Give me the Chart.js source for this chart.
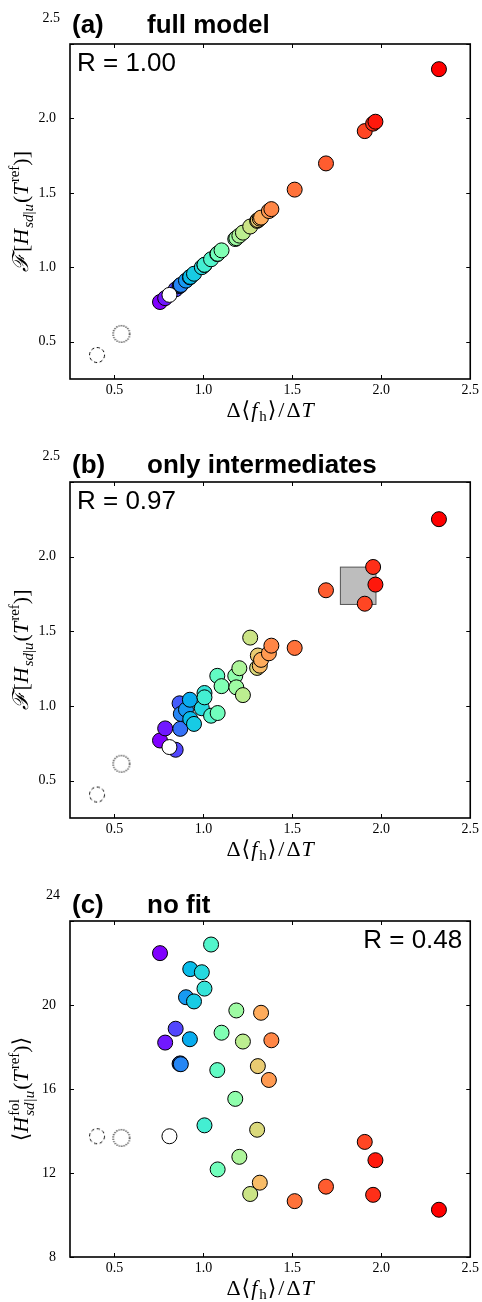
<!DOCTYPE html>
<html>
<head>
<meta charset="utf-8">
<script src="https://cdn.jsdelivr.net/npm/chart.js@4/dist/chart.umd.min.js"></script>
<style>
html,body{margin:0;padding:0;background:#fff;}
#wrap{position:relative;width:482px;height:1302px;overflow:hidden;}
#wrap canvas{position:absolute;left:0;}
</style>
</head>
<body>
<div id="wrap">
<canvas id="ca" width="482" height="432" style="top:0px;width:482px;height:432px"></canvas>
<canvas id="cb" width="482" height="438" style="top:432px;width:482px;height:438px"></canvas>
<canvas id="cc" width="482" height="432" style="top:870px;width:482px;height:432px"></canvas>
</div>
<script>
// ---------------- data ----------------
const xValues = [0.756, 0.785, 0.844, 0.866, 0.870, 0.873, 0.902, 0.924, 0.926, 0.947, 0.991, 1.006, 1.006, 1.043, 1.078, 1.080, 1.102, 1.179, 1.185, 1.202, 1.222, 1.263, 1.302, 1.306, 1.317, 1.324, 1.368, 1.382, 1.513, 1.689, 1.907, 1.954, 1.967, 2.324];
const fullModel = [0.767, 0.793, 0.852, 0.874, 0.878, 0.882, 0.911, 0.933, 0.936, 0.957, 1.001, 1.016, 1.017, 1.054, 1.089, 1.091, 1.114, 1.190, 1.196, 1.213, 1.233, 1.274, 1.312, 1.317, 1.327, 1.334, 1.378, 1.391, 1.522, 1.698, 1.915, 1.965, 1.978, 2.331];
const onlyIntermediates = [0.769, 0.850, 0.707, 1.018, 0.847, 0.947, 0.976, 1.042, 0.913, 0.880, 0.985, 1.087, 1.058, 0.935, 1.202, 0.953, 1.133, 1.202, 1.125, 1.253, 1.073, 1.458, 1.255, 1.338, 1.270, 1.309, 1.353, 1.404, 1.389, 1.775, 1.685, 1.931, 1.813, 2.251];
const noFit = [22.47, 18.21, 18.87, 17.20, 17.22, 17.18, 20.37, 18.37, 21.71, 20.17, 21.56, 20.78, 14.27, 22.88, 16.90, 12.17, 18.68, 15.53, 19.74, 12.77, 18.26, 11.00, 14.06, 17.09, 11.54, 19.63, 16.43, 18.32, 10.66, 11.35, 13.48, 10.96, 12.61, 10.25];

// white (reference) point
const refX = [0.809];
const refFull = [0.815];
const refInter = [0.725];
const refNoFit = [13.75];

// dashed and dotted open circles
const dashedX = [0.402];
const dashedFull = [0.411];
const dashedInter = [0.407];
const dashedNoFit = [13.75];
const dottedX = [0.539];
const dottedFull = [0.553];
const dottedInter = [0.613];
const dottedNoFit = [13.67];

// grey box in panel (b)
const boxX = [1.77, 1.97];
const boxY = [1.68, 1.93];

// ticks
const xTicks = [0.5, 1.0, 1.5, 2.0, 2.5];
const yTicksAB = [0.5, 1.0, 1.5, 2.0, 2.5];
const yTicksC = [8, 12, 16, 20, 24];
const xTickLabels = ['0.5', '1.0', '1.5', '2.0', '2.5'];
const yTickLabelsAB = ['0.5', '1.0', '1.5', '2.0', '2.5'];
const yTickLabelsC = ['8', '12', '16', '20', '24'];

const panelLetters = ['(a)', '(b)', '(c)'];
const panelNames = ['full model', 'only intermediates', 'no fit'];
const rTexts = ['R = 1.00', 'R = 0.97', 'R = 0.48'];

// ---------------- styles ----------------
const SERIF = "'Liberation Serif','DejaVu Serif',serif";
const SANS = "'Liberation Sans',Arial,sans-serif";
const fR = `22px ${SERIF}`, fI = `italic 22px ${SERIF}`, sR = `15px ${SERIF}`, sI = `italic 15px ${SERIF}`;

function rainbow(t){
  const r = Math.min(1, Math.abs(2*t - 0.5)), g = Math.sin(Math.PI*t), b = Math.cos(Math.PI*t/2);
  return `rgb(${Math.round(r*255)},${Math.round(g*255)},${Math.round(b*255)})`;
}
const pointColors = xValues.map((v, i) => rainbow((i < 2 ? i : i + 1) / 34));

function ringCanvas(dash, r, lw, col){
  const c = document.createElement('canvas');
  c.width = 22; c.height = 22;
  const g = c.getContext('2d');
  g.strokeStyle = col; g.lineWidth = lw;
  g.setLineDash(dash);
  g.beginPath(); g.arc(11, 11, r, 0, Math.PI*2); g.stroke();
  return c;
}
const dashedRing = ringCanvas([3.2, 2.6], 7.5, 1, '#000');
const dottedRing = ringCanvas([1.1, 1.3], 8.3, 1.4, '#222');

const yLabelAB = [
  {t:'ℱ', f:fI, sp:2}, {t:'[', f:fR}, {t:'H', f:fI, sp:1}, {t:'sd', f:sI, dy:5}, {t:'|', f:sR, dy:5}, {t:'u', f:sI, dy:5, sp:1},
  {t:'(', f:fR}, {t:'T', f:fI, sp:1}, {t:'ref', f:sR, dy:-9}, {t:')', f:fR}, {t:']', f:fR}
];
const yLabelC = [
  {t:'⟨', f:fR}, {t:'H', f:fI, sp:1}, {stack:[{t:'fol', f:sR, dy:-9}, {t:'sd|u', f:sI, dy:6}], sp:1},
  {t:'(', f:fR}, {t:'T', f:fI, sp:1}, {t:'ref', f:sR, dy:-9}, {t:')', f:fR}, {t:'⟩', f:fR}
];
const xLabel = [
  {t:'Δ', f:fR, sp:1}, {t:'⟨', f:fR, sp:1}, {t:'f', f:fI, sp:2}, {t:'h', f:sR, dy:4, sp:1}, {t:'⟩', f:fR, sp:2}, {t:'/', f:fR, sp:2}, {t:'Δ', f:fR, sp:1}, {t:'T', f:fI}
];

function segW(ctx, s){
  if (s.stack){
    return Math.max(...s.stack.map(q => { ctx.font = q.f; return ctx.measureText(q.t).width; })) + (s.sp || 0);
  }
  ctx.font = s.f; return ctx.measureText(s.t).width + (s.sp || 0);
}
function drawRich(ctx, segs, px, py, rot){
  ctx.save();
  ctx.translate(px, py);
  if (rot) ctx.rotate(-Math.PI/2);
  let W = 0; segs.forEach(s => W += segW(ctx, s));
  let x = -W/2;
  ctx.fillStyle = '#000'; ctx.textAlign = 'left'; ctx.textBaseline = 'alphabetic';
  segs.forEach(s => {
    const w = segW(ctx, s);
    if (s.stack){
      s.stack.forEach(q => { ctx.font = q.f; ctx.fillText(q.t, x, q.dy || 0); });
    } else {
      ctx.font = s.f; ctx.fillText(s.t, x, s.dy || 0);
    }
    x += w;
  });
  ctx.restore();
}

const deco = {
  id: 'deco',
  beforeDatasetsDraw(chart, args, o){
    if (!o.box) return;
    const sx = chart.scales.x, sy = chart.scales.y, ctx = chart.ctx;
    const x0 = sx.getPixelForValue(boxX[0]), x1 = sx.getPixelForValue(boxX[1]);
    const y0 = sy.getPixelForValue(boxY[1]), y1 = sy.getPixelForValue(boxY[0]);
    ctx.save();
    ctx.fillStyle = '#bdbdbd'; ctx.fillRect(x0, y0, x1 - x0, y1 - y0);
    ctx.strokeStyle = '#555'; ctx.lineWidth = 1; ctx.strokeRect(x0, y0, x1 - x0, y1 - y0);
    ctx.restore();
  },
  afterDraw(chart, args, o){
    const ctx = chart.ctx, a = chart.chartArea, sx = chart.scales.x, sy = chart.scales.y;
    ctx.save();
    // inward ticks on all four sides
    ctx.strokeStyle = '#000'; ctx.lineWidth = 1;
    ctx.beginPath();
    xTicks.forEach(v => { const p = Math.round(sx.getPixelForValue(v)) + 0.5;
      ctx.moveTo(p, a.bottom); ctx.lineTo(p, a.bottom - 4); ctx.moveTo(p, a.top); ctx.lineTo(p, a.top + 4); });
    o.yTicks.forEach(v => { const p = Math.round(sy.getPixelForValue(v)) + 0.5;
      ctx.moveTo(a.left, p); ctx.lineTo(a.left + 4, p); ctx.moveTo(a.right, p); ctx.lineTo(a.right - 4, p); });
    ctx.stroke();
    // frame
    ctx.lineWidth = 1.6;
    ctx.strokeRect(a.left, a.top, a.right - a.left, a.bottom - a.top);
    // top y tick label (sits above the frame)
    ctx.fillStyle = '#000';
    ctx.font = `14px ${SERIF}`; ctx.textAlign = 'right'; ctx.textBaseline = 'middle';
    ctx.fillText(o.yTickLabels[o.yTickLabels.length - 1], a.left - 10, a.top - 26);
    // panel title
    ctx.textBaseline = 'alphabetic'; ctx.textAlign = 'left';
    ctx.font = `bold 26px ${SANS}`;
    ctx.fillText(o.letter, 72, a.top - o.titleGap);
    ctx.fillText(o.name, 147, a.top - o.titleGap);
    // R text
    ctx.font = `26px ${SANS}`;
    if (o.rRight){ ctx.textAlign = 'right'; ctx.fillText(o.rText, a.right - 8, a.top + 27); }
    else { ctx.textAlign = 'left'; ctx.fillText(o.rText, a.left + 7, a.top + 27); }
    ctx.restore();
    // axis labels
    drawRich(ctx, xLabel, (a.left + a.right)/2, a.bottom + 38, false);
    drawRich(ctx, o.yLabel, 28, (a.top + a.bottom)/2, true);
  }
};

function makeChart(id, cfg){
  const datasets = [
    { data: refX.map((x, i) => ({x, y: cfg.ref[i]})), backgroundColor: '#ffffff', borderColor: '#000', borderWidth: 1, pointRadius: 7.5, pointHoverRadius: 7.5 },
    { data: xValues.map((x, i) => ({x, y: cfg.y[i]})), backgroundColor: pointColors, borderColor: '#000', borderWidth: 1, pointRadius: 7.5, pointHoverRadius: 7.5 },
    { data: dashedX.map((x, i) => ({x, y: cfg.dashed[i]})), pointStyle: dashedRing, pointRadius: 8 },
    { data: dottedX.map((x, i) => ({x, y: cfg.dotted[i]})), pointStyle: dottedRing, pointRadius: 8 }
  ];
  const fitX = s => { s.height = cfg.xh; };
  return new Chart(document.getElementById(id), {
    type: 'scatter',
    data: { datasets },
    plugins: [deco],
    options: {
      responsive: false, animation: false, events: [],
      layout: { padding: { top: cfg.top, right: 8, left: 0, bottom: 0 } },
      plugins: {
        legend: { display: false }, tooltip: { enabled: false },
        deco: { yTicks: cfg.yTicks, yTickLabels: cfg.yTickLabels, letter: cfg.letter, name: cfg.name, rText: cfg.rText, rRight: cfg.rRight, titleGap: cfg.titleGap, yLabel: cfg.yLabel, box: cfg.box }
      },
      scales: {
        x: {
          type: 'linear', min: 0.25, max: 2.5,
          afterBuildTicks: s => { s.ticks = xTicks.map(v => ({ value: v })); },
          afterFit: fitX,
          grid: { display: false, drawTicks: false }, border: { display: false },
          ticks: { padding: 3, color: '#000', font: { family: SERIF, size: 14 }, maxRotation: 0, autoSkip: false,
                   callback: (v) => { const i = xTicks.indexOf(v); return i >= 0 ? xTickLabels[i] : ''; } }
        },
        y: {
          type: 'linear', min: cfg.yMin, max: cfg.yMax,
          afterBuildTicks: s => { s.ticks = cfg.yTicks.map(v => ({ value: v })); },
          afterFit: s => { s.width = 70; },
          grid: { display: false, drawTicks: false }, border: { display: false },
          ticks: { padding: 14, color: '#000', font: { family: SERIF, size: 14 }, autoSkip: false,
                   callback: (v) => { const i = cfg.yTicks.indexOf(v); return (i >= 0 && i < cfg.yTicks.length - 1) ? cfg.yTickLabels[i] : ''; } }
        }
      }
    }
  });
}

makeChart('ca', { top: 44, xh: 53, y: fullModel, ref: refFull, dashed: dashedFull, dotted: dottedFull,
  yMin: 0.25, yMax: 2.5, yTicks: yTicksAB, yTickLabels: yTickLabelsAB, letter: panelLetters[0], name: panelNames[0],
  rText: rTexts[0], rRight: false, titleGap: 11, yLabel: yLabelAB, box: false });
makeChart('cb', { top: 50, xh: 52, y: onlyIntermediates, ref: refInter, dashed: dashedInter, dotted: dottedInter,
  yMin: 0.25, yMax: 2.5, yTicks: yTicksAB, yTickLabels: yTickLabelsAB, letter: panelLetters[1], name: panelNames[1],
  rText: rTexts[1], rRight: false, titleGap: 9, yLabel: yLabelAB, box: true });
makeChart('cc', { top: 51, xh: 45, y: noFit, ref: refNoFit, dashed: dashedNoFit, dotted: dottedNoFit,
  yMin: 8, yMax: 24, yTicks: yTicksC, yTickLabels: yTickLabelsC, letter: panelLetters[2], name: panelNames[2],
  rText: rTexts[2], rRight: true, titleGap: 8, yLabel: yLabelC, box: false });
</script>
</body>
</html>
